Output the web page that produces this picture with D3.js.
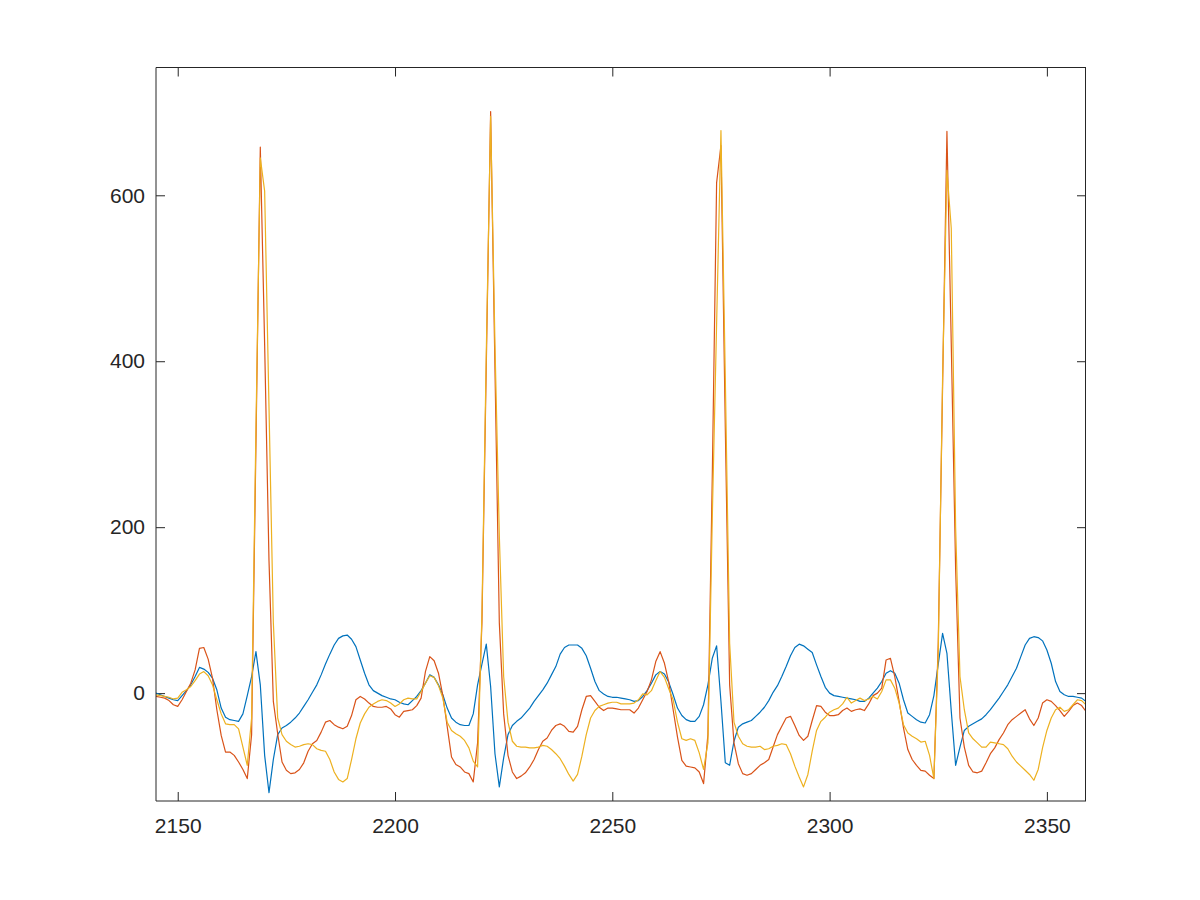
<!DOCTYPE html>
<html>
<head>
<meta charset="utf-8">
<script src="https://cdn.jsdelivr.net/npm/d3@7"></script>
<style>
  body { margin: 0; background: #fff; }
  svg { display: block; }
  .tick text { font-family: "Liberation Sans", Arial, sans-serif; font-size: 21px; fill: #262626; }
  .tick line { stroke: #262626; }
</style>
</head>
<body>
<div id="chart"></div>
<script>
// samples start here, one value per sample
const sampleStart = 2145;

const xTicks = [2150, 2200, 2250, 2300, 2350];
const yTicks = [0, 200, 400, 600];

// series 1 (blue)
const series1 = [
  0, -2, -4, -6, -8, -9, -3, 3, 10, 20,
  31, 29, 25, 18, 4, -18, -29, -32, -33, -34,
  -25, -3, 20, 50, 10, -75, -120, -80, -50, -42,
  -39, -35, -30, -24, -16, -8, 1, 10, 22, 35,
  47, 58, 66, 69, 70, 65, 56, 40, 24, 10,
  3, 0, -3, -5, -7, -8, -11, -13, -14, -9,
  -4, 3, 12, 22, 19, 10, -2, -18, -30, -35,
  -38, -39, -39, -25, 10, 35, 59, 8, -73, -113,
  -78, -50, -39, -34, -30, -24, -18, -10, -3, 4,
  12, 22, 32, 47, 55, 58, 58, 58, 54, 45,
  30, 14, 3, -1, -4, -5, -5, -6, -7, -8,
  -10, -9, -4, 3, 12, 22, 26, 23, 13, -2,
  -18, -27, -32, -34, -34, -28, -14, 10, 42, 57,
  -10, -84, -87, -58, -41, -37, -35, -33, -28, -23,
  -17, -9, 1, 9, 20, 32, 45, 55, 59, 57,
  53, 49, 34, 20, 7, 0, -3, -4, -5, -6,
  -7, -8, -10, -10, -6, 0, 6, 14, 24, 27,
  24, 12, -8, -24, -28, -32, -35, -36, -26, -3,
  35, 72, 48, -22, -87, -65, -45, -40, -37, -34,
  -31, -26, -20, -13, -6, 2, 10, 20, 30, 44,
  58, 66, 68, 67, 63, 52, 36, 14, 2, -2,
  -4, -4, -5, -6, -10
];

// series 2 (red)
const series2 = [
  -4, -5, -6, -9, -14, -16, -8, 2, 12, 28,
  54, 55, 41, 18, -20, -51, -71, -71, -75, -83,
  -92, -103, -50, 300, 658, 420, 160, -10, -49, -83,
  -93, -97, -96, -92, -84, -70, -61, -57, -47, -35,
  -33, -38, -41, -43, -40, -27, -8, -4, -7, -12,
  -16, -17, -17, -16, -19, -26, -29, -22, -21, -20,
  -15, -6, 26, 44, 39, 24, -3, -40, -77, -86,
  -89, -95, -97, -107, -60, 85, 395, 701, 390, 85,
  -25, -75, -95, -103, -100, -96, -89, -80, -68, -58,
  -54, -45, -39, -37, -40, -46, -47, -40, -20, -4,
  -3, -10, -17, -21, -18, -18, -19, -20, -20, -20,
  -24, -18, -8, 2, 16, 38, 50, 36, 13, -20,
  -53, -81, -88, -89, -90, -95, -109, -50, 260, 615,
  660, 320, 10, -60, -85, -97, -99, -97, -92, -87,
  -84, -80, -65, -50, -40, -30, -28, -39, -51, -57,
  -52, -33, -15, -16, -23, -27, -27, -26, -21, -18,
  -22, -20, -19, -21, -13, -3, 0, 6, 40, 42,
  20, -10, -42, -68, -80, -87, -93, -94, -99, -103,
  60, 370, 677, 420, 150, -30, -65, -87, -95, -96,
  -94, -84, -73, -66, -56, -48, -38, -32, -28, -24,
  -20, -31, -39, -30, -12, -8, -10, -15, -21, -28,
  -22, -15, -12, -15, -22
];

// series 3 (yellow)
const series3 = [
  -2, -3, -4, -5, -7, -6, 1, 4, 8, 15,
  23, 26, 21, 10, -8, -25, -37, -38, -38, -43,
  -65, -87, -30, 320, 645, 605, 345, 85, -30, -50,
  -58, -62, -65, -64, -62, -61, -62, -67, -69, -70,
  -80, -95, -104, -107, -103, -80, -55, -36, -25, -17,
  -13, -10, -8, -9, -12, -16, -13, -8, -6, -7,
  -7, 2, 12, 21, 19, 9, -6, -35, -45, -49,
  -52, -57, -66, -82, -89, 95, 410, 695, 420, 190,
  20, -35, -58, -64, -65, -65, -66, -66, -65, -63,
  -64, -68, -73, -79, -88, -98, -106, -98, -76, -50,
  -30, -21, -16, -14, -12, -11, -11, -13, -13, -13,
  -12, -8, -1, -2, 3, 15, 26, 19, 5, -8,
  -35, -55, -57, -55, -57, -72, -92, -60, 210, 445,
  678, 380, 60, -35, -52, -61, -64, -65, -65, -64,
  -68, -67, -64, -63, -61, -62, -73, -88, -101, -113,
  -98, -70, -45, -34, -29, -23, -20, -18, -13, -5,
  -12, -9, -6, -9, -7, -4, -7, 2, 16, 16,
  6, -12, -38, -48, -52, -55, -59, -58, -75, -103,
  50, 380, 630, 560, 200, 20, -20, -48, -55, -60,
  -65, -65, -59, -60, -61, -62, -67, -76, -83, -88,
  -93, -98, -105, -92, -66, -45, -30, -20, -17, -22,
  -20, -14, -8, -9, -14
];

const seriesList = [
  { values: series1, color: "#0072bd" },
  { values: series2, color: "#d95319" },
  { values: series3, color: "#edb120" }
];

const width = 1200;
const height = 900;
const plotLeft = 156, plotRight = 1086, plotTop = 67.5, plotBottom = 801;

const svg = d3.select("#chart").append("svg")
  .attr("width", width)
  .attr("height", height)
  .style("background", "#fff");

const x = d3.scaleLinear()
  .domain([sampleStart, sampleStart + series1.length - 1])
  .range([plotLeft, plotRight]);

const y = d3.scaleLinear()
  .domain([-130, 754])
  .range([plotBottom, plotTop]);

svg.append("clipPath").attr("id", "plotClip")
  .append("rect")
  .attr("x", plotLeft).attr("y", plotTop)
  .attr("width", plotRight - plotLeft).attr("height", plotBottom - plotTop);

// axes, ticks point inward
svg.append("g")
  .attr("transform", `translate(0,${plotBottom})`)
  .call(d3.axisBottom(x).tickValues(xTicks).tickFormat(d3.format("d"))
    .tickSizeInner(-9).tickSizeOuter(0).tickPadding(17))
  .call(g => g.select(".domain").remove());

svg.append("g")
  .attr("transform", `translate(0,${plotTop})`)
  .call(d3.axisTop(x).tickValues(xTicks).tickSizeInner(-9).tickSizeOuter(0).tickFormat(""))
  .call(g => g.select(".domain").remove());

svg.append("g")
  .attr("transform", `translate(${plotLeft},0)`)
  .call(d3.axisLeft(y).tickValues(yTicks).tickFormat(d3.format("d"))
    .tickSizeInner(-9).tickSizeOuter(0).tickPadding(11))
  .call(g => g.select(".domain").remove());

svg.append("g")
  .attr("transform", `translate(${plotRight},0)`)
  .call(d3.axisRight(y).tickValues(yTicks).tickSizeInner(-9).tickSizeOuter(0).tickFormat(""))
  .call(g => g.select(".domain").remove());

// data lines
const line = d3.line()
  .x((d, i) => x(sampleStart + i))
  .y(d => y(d));

svg.append("g")
  .attr("clip-path", "url(#plotClip)")
  .selectAll("path")
  .data(seriesList)
  .join("path")
  .attr("fill", "none")
  .attr("stroke", d => d.color)
  .attr("stroke-width", 1.2)
  .attr("stroke-linejoin", "round")
  .attr("d", d => line(d.values));

// box
const box = svg.append("g").attr("stroke", "#262626").attr("stroke-width", 1).attr("fill", "none");
box.append("line").attr("x1", plotLeft).attr("x2", plotRight).attr("y1", plotTop).attr("y2", plotTop);
box.append("line").attr("x1", plotRight - 0.5).attr("x2", plotRight - 0.5).attr("y1", plotTop).attr("y2", plotBottom);
box.append("line").attr("x1", plotLeft).attr("x2", plotRight).attr("y1", plotBottom).attr("y2", plotBottom);
box.append("line").attr("x1", plotLeft).attr("x2", plotLeft).attr("y1", plotTop).attr("y2", plotBottom);
</script>
</body>
</html>
